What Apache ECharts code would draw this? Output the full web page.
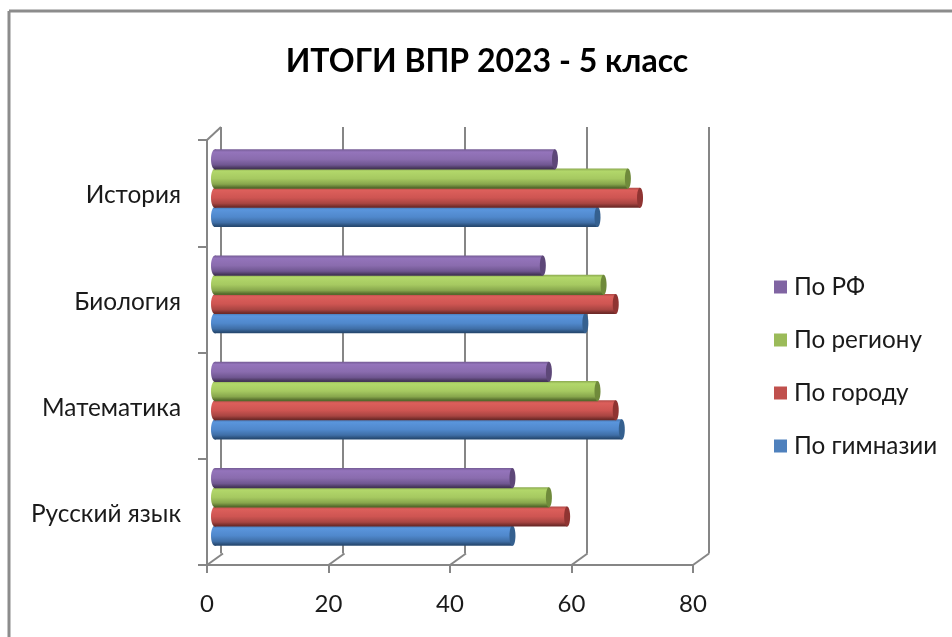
<!DOCTYPE html>
<html>
<head>
<meta charset="utf-8">
<style>html,body{margin:0;padding:0;background:#fff}#c{width:952px;height:637px}</style>
<script src="https://cdn.jsdelivr.net/npm/echarts@6/dist/echarts.min.js"></script>
</head>
<body>
<div id="c"></div>
<script>
const categories = ['Русский язык', 'Математика', 'Биология', 'История'];
const gymnasium = [50, 68, 62, 64];
const city = [59, 67, 67, 71];
const region = [56, 64, 65, 69];
const russia = [50, 56, 55, 57];
const seriesNames = ['По гимназии', 'По городу', 'По региону', 'По РФ'];
const legendOrder = ['По РФ', 'По региону', 'По городу', 'По гимназии'];
const xTicks = [0, 20, 40, 60, 80];
const title = 'ИТОГИ ВПР 2023 - 5 класс';

const FONT = 'Lato, Carlito, "Open Sans", sans-serif';
const AXIS = '#868686';
const palettes = [
  {base:'#4f81bd', top:'#4474ad', light:'#5a95dc', mid:'#5088cc', low:'#3f6ea6', bottom:'#274a72', cap:'#35608f'},
  {base:'#c0504d', top:'#b04a47', light:'#dc5f5b', mid:'#ce5552', low:'#a84542', bottom:'#6e2a28', cap:'#8f3432'},
  {base:'#9bbb59', top:'#8aa84f', light:'#b2d76a', mid:'#a6c961', low:'#87a64c', bottom:'#556b2c', cap:'#6f8a3b'},
  {base:'#8064a2', top:'#735a93', light:'#9474bb', mid:'#8a6cae', low:'#6f5690', bottom:'#453558', cap:'#5d4778'}
];
const seriesData = [gymnasium, city, region, russia];

function grad(p){
  return {type:'linear',x:0,y:0,x2:0,y2:1,colorStops:[
    {offset:0,color:p.top},{offset:0.14,color:p.light},{offset:0.5,color:p.mid},
    {offset:0.78,color:p.low},{offset:0.95,color:p.bottom},{offset:1,color:p.bottom}]};
}
function cylinder(idx){
  const p = palettes[idx];
  return function(params, api){
    const cat = api.value(1), val = api.value(0);
    const band = api.size([0,1])[1];
    const step = band * 0.181;
    const h = step + 1;
    const end = api.coord([val, cat]);
    const start = api.coord([0, cat]);
    const cy = end[1] - band*0.047 + (1.5 - idx) * step;
    const rx = 4;
    const x0 = start[0] + 8, x1 = end[0] + 1.7;
    return {type:'group', children:[
      {type:'ellipse', shape:{cx:x0, cy:cy, rx:rx, ry:h/2}, style:{fill:grad(p)}},
      {type:'rect', shape:{x:x0, y:cy-h/2, width:x1-x0, height:h}, style:{fill:grad(p)}},
      {type:'ellipse', shape:{cx:x1, cy:cy, rx:3, ry:h/2}, style:{fill:p.cap}}
    ]};
  };
}
function connectors(params, api){
  const v = api.value(0);
  const cs = params.coordSys;
  const x = api.coord([v, 0])[0];
  const yb = cs.y + cs.height;
  return {type:'line', shape:{x1:x, y1:yb, x2:x+16, y2:yb-11.5},
    style:{stroke:AXIS, lineWidth:2}, silent:true};
}
function cornerLine(params, api){
  const cs = params.coordSys;
  return {type:'line', shape:{x1:cs.x, y1:cs.y, x2:cs.x+14, y2:cs.y-13},
    style:{stroke:AXIS, lineWidth:2}, silent:true};
}

const series = seriesNames.map((name, i) => ({
  name, type:'custom', xAxisIndex:0, yAxisIndex:0, z:5,
  itemStyle:{color:palettes[i].base},
  encode:{x:0,y:1},
  renderItem:cylinder(i),
  data:seriesData[i].map((v,c)=>[v,c])
}));
series.push({type:'custom', name:'_floor', xAxisIndex:0, yAxisIndex:0, z:2, renderItem:connectors,
  encode:{x:0}, data:xTicks.map(v=>[v,0]), tooltip:{show:false}});
series.push({type:'custom', name:'_corner', xAxisIndex:0, yAxisIndex:0, z:2, renderItem:cornerLine,
  encode:{x:0}, data:[[0,0]], tooltip:{show:false}});

const chart = echarts.init(document.getElementById('c'));
chart.setOption({
  animation:false,
  backgroundColor:'#fff',
  textStyle:{fontFamily:FONT},
  title:{text:title, left:482, top:41, textAlign:'center',
    textStyle:{fontFamily:FONT, fontSize:32, fontWeight:'bold', color:'#000'}},
  legend:{data:legendOrder, orient:'vertical', left:769, top:270, itemWidth:13, itemHeight:13,
    itemGap:29, icon:'rect',
    textStyle:{fontFamily:FONT, fontSize:24.3, color:'#1a1a1a', padding:[0,0,0,2]}},
  grid:[
    {left:207, top:140, width:486, height:425},
    {left:221, top:127, width:488, height:426.5},
    {left:207, top:142.5, width:486, height:425}
  ],
  xAxis:[
    {type:'value', gridIndex:0, min:0, max:80, interval:20,
      axisLine:{show:true, onZero:false, lineStyle:{color:AXIS, width:2}},
      axisTick:{show:true, length:8, lineStyle:{color:AXIS, width:2}},
      splitLine:{show:false},
      axisLabel:{color:'#1a1a1a', fontSize:24, margin:27}},
    {type:'value', gridIndex:1, min:0, max:80, interval:20,
      axisLine:{show:false}, axisTick:{show:false}, axisLabel:{show:false},
      splitLine:{show:true, lineStyle:{color:AXIS, width:2}}},
    {type:'value', gridIndex:2, min:0, max:80, interval:20, show:false}
  ],
  yAxis:[
    {type:'category', gridIndex:0, data:categories,
      axisLine:{show:true, lineStyle:{color:AXIS, width:2}},
      axisTick:{show:true, length:9, lineStyle:{color:AXIS, width:2}},
      axisLabel:{show:false}},
    {type:'category', gridIndex:1, data:categories,
      axisLine:{show:false}, axisTick:{show:false}, axisLabel:{show:false}},
    {type:'category', gridIndex:2, data:categories,
      axisLine:{show:false}, axisTick:{show:false},
      axisLabel:{color:'#1a1a1a', fontSize:24.4, margin:26}}
  ],
  series,
  graphic:[
    {type:'line', shape:{x1:9, y1:11, x2:952, y2:11}, style:{stroke:'#8c8c8c', lineWidth:3}},
    {type:'line', shape:{x1:9, y1:11, x2:9, y2:637}, style:{stroke:'#8c8c8c', lineWidth:3}}
  ]
});
</script>
</body>
</html>
